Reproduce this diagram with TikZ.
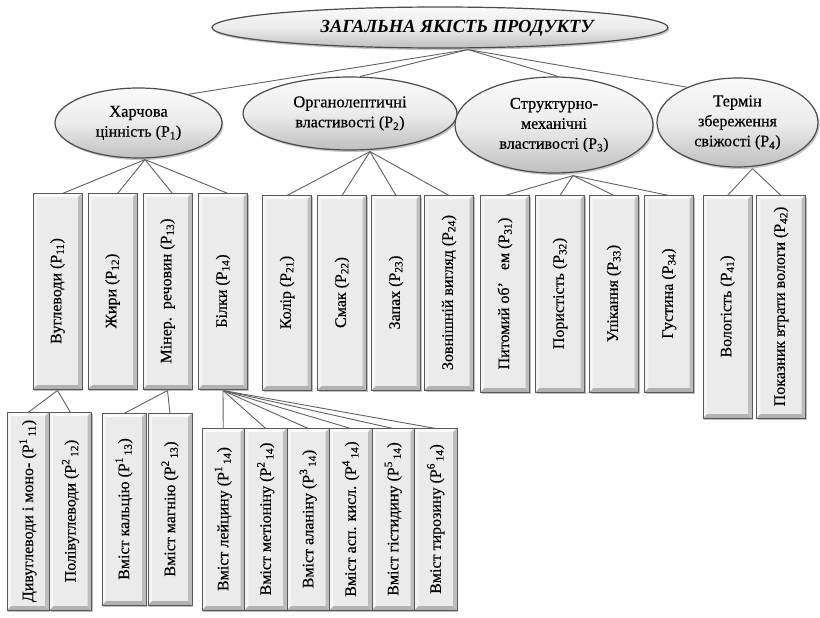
\documentclass[tikz,border=0pt]{standalone}
\usepackage{fontspec}
\setmainfont{Liberation Serif}[UprightFeatures={FakeBold=0.4}]
\usetikzlibrary{shapes.geometric,shadows,backgrounds}
\newcommand{\fsz}{\fontsize{16}{20}\selectfont}
\begin{document}
\begin{tikzpicture}[x=1pt,y=-1pt,
  ell/.style={ellipse, draw=black!70, line width=1.2pt, top color=gray!4, bottom color=gray!50, middle color=gray!15,
    inner sep=0pt, align=center, font=\fsz,
    drop shadow={shadow xshift=1.5pt,shadow yshift=-2pt,opacity=.45}},
  conn/.style={draw=black!62, line width=0.9pt},
  bx/.style={rectangle, draw=black!65, line width=1pt, fill=gray!16, inner sep=0pt, font=\fsz,
    drop shadow={shadow xshift=1.2pt,shadow yshift=-1.5pt,opacity=.5},
    path picture={
      \fill[gray!3] (path picture bounding box.north west) -- (path picture bounding box.north east)
        -- ([shift={(-4pt,-4pt)}]path picture bounding box.north east) -- ([shift={(4pt,-4pt)}]path picture bounding box.north west) -- cycle;
      \fill[gray!8] (path picture bounding box.north west) -- ([shift={(4pt,-4pt)}]path picture bounding box.north west)
        -- ([shift={(4pt,4pt)}]path picture bounding box.south west) -- (path picture bounding box.south west) -- cycle;
      \fill[gray!60] (path picture bounding box.south west) -- ([shift={(4pt,4pt)}]path picture bounding box.south west)
        -- ([shift={(-4pt,4pt)}]path picture bounding box.south east) -- (path picture bounding box.south east) -- cycle;
      \fill[gray!52] (path picture bounding box.south east) -- ([shift={(-4pt,4pt)}]path picture bounding box.south east)
        -- ([shift={(-4pt,-4pt)}]path picture bounding box.north east) -- (path picture bounding box.north east) -- cycle;
    }},
  bA/.style={bx, minimum width=49pt, minimum height=196pt},
  bB/.style={bx, minimum width=49pt, minimum height=195pt},
  bC/.style={bx, minimum width=49pt, minimum height=197pt},
  bD/.style={bx, minimum width=49pt, minimum height=223pt},
  cA/.style={bx, minimum width=42pt, minimum height=198pt},
  cB/.style={bx, minimum width=44pt, minimum height=192pt},
  cD/.style={bx, minimum width=42.5pt, minimum height=182pt}
]
\useasboundingbox (0,0) rectangle (820,618);

% top
\node[ell, minimum width=456pt, minimum height=41pt] (top) at (440,27.5) {};
\node[font=\fontsize{18.5}{22}\selectfont\bfseries\itshape] (title) at (457,28) {ЗАГАЛЬНА ЯКІСТЬ ПРОДУКТУ};

% level 1
\node[ell, minimum width=167pt, minimum height=70pt] (har) at (138.5,123)
  {\fontsize{16.5}{26}\selectfont Харчова\\ цінність (P\textsubscript{1})};
\node[ell, minimum width=214pt, minimum height=73pt] (org) at (350,113.5)
  {\fontsize{16.5}{26}\selectfont Органолептичні\\ властивості (P\textsubscript{2})};
\node[ell, minimum width=198pt, minimum height=96pt] (str) at (554,125)
  {\fontsize{16.5}{21}\selectfont Структурно-\\ механічні\\ властивості (P\textsubscript{3})};
\node[ell, minimum width=161pt, minimum height=89pt] (ter) at (737.5,122.5)
  {\fontsize{16.5}{21}\selectfont Термін\\ збереження\\ свіжості (P\textsubscript{4})};

% level 2
\node[bA] (b11) at (57.5,291) {\rotatebox{90}{Вуглеводи (P\textsubscript{11})}};
\node[bA] (b12) at (112.5,291) {\rotatebox{90}{Жири (P\textsubscript{12})}};
\node[bA] (b13) at (167.5,291) {\rotatebox{90}{Мінер.\ \ речовин (P\textsubscript{13})}};
\node[bA] (b14) at (223,291) {\rotatebox{90}{Білки (P\textsubscript{14})}};

\node[bB] (b21) at (287,292.5) {\rotatebox{90}{Колір (P\textsubscript{21})}};
\node[bB] (b22) at (342,292.5) {\rotatebox{90}{Смак (P\textsubscript{22})}};
\node[bB] (b23) at (396,292.5) {\rotatebox{90}{Запах (P\textsubscript{23})}};
\node[bB] (b24) at (449,292.5) {\rotatebox{90}{Зовнішній вигляд (P\textsubscript{24})}};

\node[bC] (b31) at (505,293.5) {\rotatebox{90}{Питомий об’\ \ \ ем (P\textsubscript{31})}};
\node[bC] (b32) at (560,293.5) {\rotatebox{90}{Пористість (P\textsubscript{32})}};
\node[bC] (b33) at (614,293.5) {\rotatebox{90}{Упікання (P\textsubscript{33})}};
\node[bC] (b34) at (669,293.5) {\rotatebox{90}{Густина (P\textsubscript{34})}};

\node[bD] (b41) at (727.5,306.5) {\rotatebox{90}{Вологість (P\textsubscript{41})}};
\node[bD] (b42) at (781,306.5) {\rotatebox{90}{Показник втрати вологи (P\textsubscript{42})}};

% level 3
\node[cA] (c1) at (28,511) {\rotatebox{90}{Дивуглеводи і моно- (P\textsuperscript{1}\textsubscript{\,11})}};
\node[cA] (c2) at (70.5,511) {\rotatebox{90}{Полівуглеводи (P\textsuperscript{2}\textsubscript{\,12})}};
\node[cB] (c3) at (124,509) {\rotatebox{90}{Вміст кальцію (P\textsuperscript{1}\textsubscript{\,13})}};
\node[cB] (c4) at (170,509) {\rotatebox{90}{Вміст магнію (P\textsuperscript{2}\textsubscript{\,13})}};

\node[cD] (d1) at (223.25,519) {\rotatebox{90}{Вміст лейцину (P\textsuperscript{1}\textsubscript{\,14})}};
\node[cD] (d2) at (265.75,519) {\rotatebox{90}{Вміст метіоніну (P\textsuperscript{2}\textsubscript{\,14})}};
\node[cD] (d3) at (308.25,519) {\rotatebox{90}{Вміст аланіну (P\textsuperscript{3}\textsubscript{\,14})}};
\node[cD] (d4) at (350.75,519) {\rotatebox{90}{Вміст асп. кисл. (P\textsuperscript{4}\textsubscript{\,14})}};
\node[cD] (d5) at (393.25,519) {\rotatebox{90}{Вміст гістидину (P\textsuperscript{5}\textsubscript{\,14})}};
\node[cD] (d6) at (435.75,519) {\rotatebox{90}{Вміст тирозину (P\textsuperscript{6}\textsubscript{\,14})}};

\begin{scope}[on background layer]
  \coordinate (tp) at ([xshift=28pt,yshift=-1pt]top.south);
  \draw[conn] (tp) -- (har.30);
  \draw[conn] (tp) -- (org.75);
  \draw[conn] (tp) -- (str.85);
  \draw[conn] (tp) -- (ter.145);

  \coordinate (hp) at ([xshift=6.5pt,yshift=-1pt]har.south);
  \foreach \n in {b11,b12,b13,b14} \draw[conn] (hp) -- ([xshift=5pt,yshift=-1pt]\n.north);
  \coordinate (op) at ([xshift=20pt,yshift=-1pt]org.south);
  \foreach \n in {b21,b22,b23,b24} \draw[conn] (op) -- ([yshift=-1pt]\n.north);
  \coordinate (sp) at ([xshift=19pt,yshift=-2pt]str.south);
  \foreach \n in {b31,b32,b33,b34} \draw[conn] (sp) -- ([yshift=-1pt]\n.north);
  \coordinate (rp) at ([xshift=15pt,yshift=-1pt]ter.south);
  \foreach \n in {b41,b42} \draw[conn] (rp) -- ([yshift=-1pt]\n.north);

  \foreach \n in {c1,c2} \draw[conn] ([yshift=-1pt]b11.south) -- ([yshift=-1pt]\n.north);
  \foreach \n in {c3,c4} \draw[conn] ([yshift=-1pt]b13.south) -- ([yshift=-1pt]\n.north);
  \foreach \n in {d1,d2,d3,d4,d5,d6} \draw[conn] ([yshift=-1pt]b14.south) -- ([yshift=-1pt]\n.north);
\end{scope}
\end{tikzpicture}
\end{document}
